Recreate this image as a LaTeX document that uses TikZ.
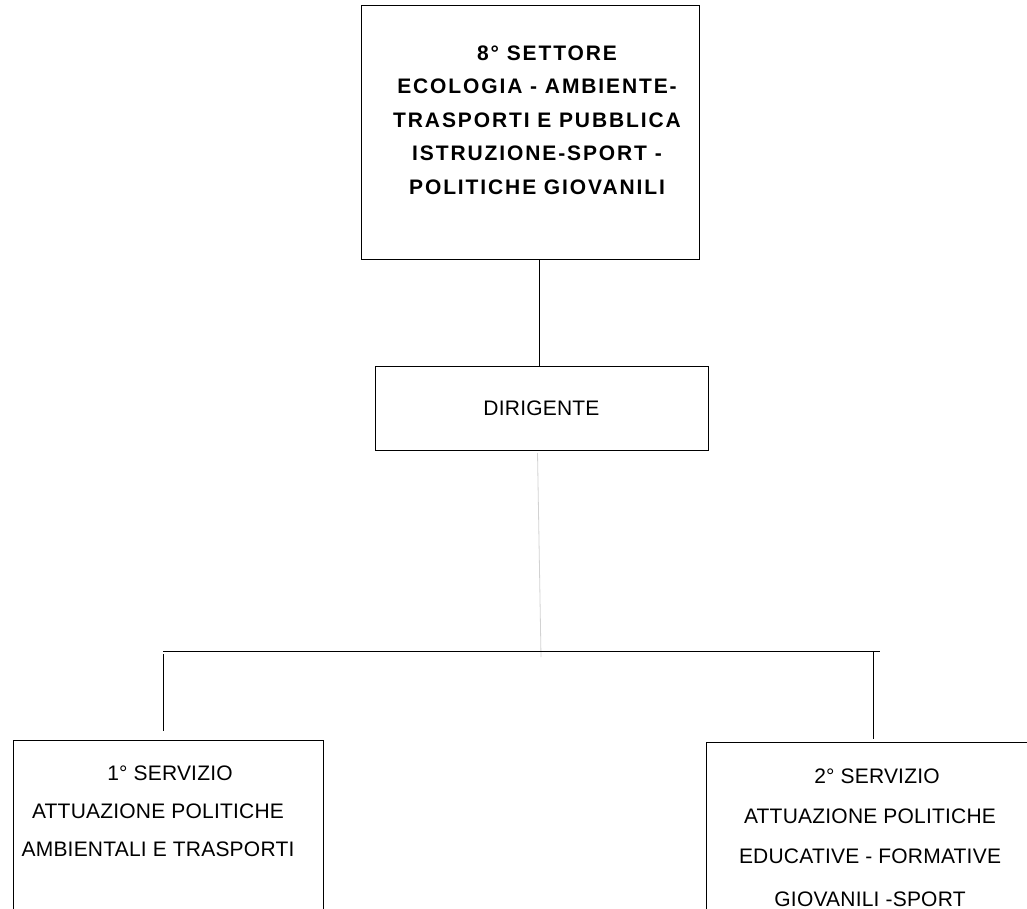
\documentclass[tikz,border=0pt]{standalone}
\usepackage{fontspec}
\setmainfont{Liberation Sans}
\newfontfamily\settorefont[LetterSpace=9]{Liberation Sans}
\newfontfamily\serviziofont[LetterSpace=1]{Liberation Sans}
\usepackage{tikz}
\usepackage{xcolor}

\begin{document}
\begin{tikzpicture}[x=1pt,y=-1pt,line width=1pt,
  ufficio/.style={draw,rectangle,inner sep=0pt,outer sep=0pt},
  testo/.style={align=center,inner sep=0pt},
  settore/.style={testo,font=\settorefont\bfseries\fontsize{21}{33.5}\selectfont},
  servizio/.style={testo,font=\serviziofont\fontsize{21}{38}\selectfont}]
\useasboundingbox (0,0) rectangle (1027,909);
\clip (0,0) rectangle (1027,909);
% caselle
\node [ufficio,minimum width=338pt,minimum height=253pt] (top) at (530,132.5) {};
\node [ufficio,minimum width=333pt,minimum height=84pt,servizio] (dir) at (541.5,408) {DIRIGENTE};
\node [ufficio,minimum width=310pt,minimum height=190pt] (s1) at (168,835) {};
\node [ufficio,minimum width=339pt,minimum height=188pt] (s2) at (875.5,836) {};
% testi
\node [settore] (toptxt) at (537,120) {\hspace*{20pt}8° SETTORE\\ECOLOGIA - AMBIENTE-\hspace*{14pt}\\TRASPORTI E PUBBLICA\\ISTRUZIONE-SPORT -\\POLITICHE GIOVANILI};
\node [servizio] (s1txt) at (158,811) {\hspace*{24pt}1° SERVIZIO\\ATTUAZIONE POLITICHE\\AMBIENTALI E TRASPORTI};
\node [servizio] (s2txt) at (870,837.5) {\hspace*{14pt}2° SERVIZIO\\[2pt]ATTUAZIONE POLITICHE\hspace*{6pt}\\[2pt]EDUCATIVE - FORMATIVE\\[5pt]GIOVANILI -SPORT};
% collegamenti
\coordinate (dirtop) at ([xshift=-2.5pt]dir.north);
\draw (dirtop) -- (dirtop |- top.south);
\coordinate (grbot) at (541,657);
\draw [gray!35,line width=0.8pt] ([xshift=-4pt,yshift=-3pt]dir.south) -- (grbot);
\coordinate (busL) at (163,651);
\coordinate (busR) at (880,651);
\draw (busL) -- (busR);
\coordinate (d1) at (163,731);
\draw ([yshift=-3pt]busL) -- (d1);
\coordinate (d2) at (873,739);
\draw (d2 |- busR) -- (d2);
\end{tikzpicture}
\end{document}
